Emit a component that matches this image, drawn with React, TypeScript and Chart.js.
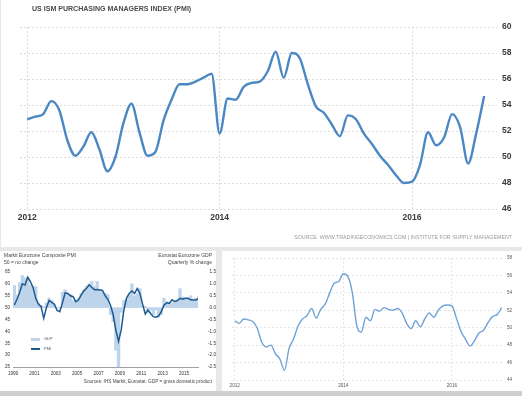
import React, { useEffect, useRef } from 'react';
import { Chart, registerables } from 'chart.js';

Chart.register(...registerables);
Chart.defaults.font.family = '"Liberation Sans", Arial, sans-serif';

// ---------- Top chart: US ISM PMI (monthly from Jan 2012) ----------
const ismTitle = 'US ISM PURCHASING MANAGERS INDEX (PMI)';
const ismSource = 'SOURCE: WWW.TRADINGECONOMICS.COM | INSTITUTE FOR SUPPLY MANAGEMENT';
const ismTickMonths = [0, 24, 48];
const ismTickLabels = ['2012', '2014', '2016'];
const ismValues = [
  52.9, 53.1, 53.3, 54.3, 53.6, 51.3, 50.1, 50.8, 51.9, 50.6,
  48.9, 50.0, 52.6, 54.1, 51.9, 50.1, 50.4, 52.8, 54.4, 55.6,
  55.6, 55.8, 56.1, 56.4, 51.8, 54.5, 54.4, 55.4, 55.7, 55.8,
  56.6, 58.1, 56.1, 58.0, 57.6, 55.6, 53.9, 53.4, 52.5, 51.6,
  53.2, 52.9, 51.8, 51.0, 50.1, 49.4, 48.6, 48.0, 48.1, 49.4,
  51.9, 50.9, 51.5, 53.3, 52.3, 49.5, 51.8, 54.7,
];

// ---------- Bottom-left chart: Eurozone PMI vs GDP (quarterly from 1999) ----------
const ezTitleLeft = ['Markit Eurozone Composite PMI', '50 = no change'];
const ezTitleRight = ['Eurostat Eurozone GDP', 'Quarterly % change'];
const ezSource = 'Sources: IHS Markit, Eurostat. GDP = gross domestic product';
const ezStartYear = 1999;
const ezYearTicks = [1999, 2001, 2003, 2005, 2007, 2009, 2011, 2013, 2015];
const ezPmi = [
  51.1, 53.5, 56.5, 60.0, 59.5, 62.8, 61.0, 58.5, 54.0, 51.5,
  50.4, 45.5, 50.0, 53.0, 52.2, 51.4, 48.8, 48.3, 52.0, 56.2,
  56.0, 55.0, 54.6, 52.5, 53.2, 55.3, 57.0, 58.2, 59.6, 58.5,
  57.5, 57.6, 57.4, 57.2, 55.0, 53.5, 51.0, 47.0, 40.5, 35.8,
  40.6, 49.0, 54.0, 56.0, 57.0, 56.0, 58.0, 56.0, 51.5, 47.3,
  49.0, 47.5, 46.2, 46.0, 46.5, 48.3, 51.0, 52.0, 51.8, 53.3,
  52.5, 53.0, 53.9, 53.5, 53.9, 53.9, 53.3, 53.2, 53.2, 54.0,
];
const ezGdp = [
  0.93, 0.53, 1.05, 1.35, 1.25, 1.28, 0.95, 0.9, 0.88, 0.18,
  0.1, 0.05, 0.2, 0.4, 0.3, 0.1, 0.0, -0.03, 0.65, 0.75,
  0.6, 0.55, 0.3, 0.3, 0.4, 0.6, 0.75, 0.9, 1.0, 1.1,
  0.9, 1.1, 0.75, 0.65, 0.6, 0.55, -0.3, -0.6, -1.8, -2.6,
  -0.2, 0.3, 0.35, 0.55, 1.0, 0.5, 0.6, 0.8, 0.1, 0.05,
  -0.2, -0.1, -0.3, -0.1, -0.4, -0.3, 0.4, 0.25, 0.2, 0.2,
  0.2, 0.25, 0.8, 0.45, 0.35, 0.4, 0.5, 0.3, 0.4, 0.45,
];

// ---------- Bottom-right chart: PMI (monthly from Jan 2012) ----------
const pmi2TickMonths = [0, 24, 48];
const pmi2TickLabels = ['2012', '2014', '2016'];
const pmi2Values = [
  50.8, 50.5, 51.0, 50.9, 50.7, 49.9, 48.3, 47.8, 48.0, 47.0,
  46.4, 45.1, 47.6, 48.7, 50.2, 51.0, 51.4, 52.2, 51.1, 52.1,
  52.7, 54.0, 55.1, 55.3, 56.2, 55.9, 54.0, 50.2, 49.5, 51.2,
  50.8, 52.1, 51.9, 52.3, 52.1, 52.0, 52.2, 51.7, 50.5, 49.9,
  50.8, 50.1, 51.0, 51.7, 51.2, 52.0, 52.5, 52.6, 52.5, 51.1,
  49.6, 48.7, 47.9, 48.5, 49.4, 49.7, 50.6, 51.3, 51.5, 52.3,
];

function useChart(ref: React.RefObject<HTMLCanvasElement | null>, make: () => any) {
  useEffect(() => {
    if (!ref.current) return;
    const chart = new Chart(ref.current, make());
    return () => chart.destroy();
  }, []);
}

function TopChart() {
  const ref = useRef<HTMLCanvasElement>(null);
  useChart(ref, () => ({
    type: 'line',
    data: {
      datasets: [
        {
          data: ismValues.map((v, i) => ({ x: i, y: v })),
          borderColor: '#4b87c2',
          borderWidth: 2.4,
          pointRadius: 0,
          cubicInterpolationMode: 'monotone',
          fill: false,
        },
      ],
    },
    options: {
      responsive: false,
      animation: false,
      devicePixelRatio: 1,
      layout: { padding: { left: 20, top: 27, right: 0, bottom: 0 } },
      plugins: { legend: { display: false }, tooltip: { enabled: false } },
      scales: {
        x: {
          type: 'linear',
          min: -0.9,
          max: 58.6,
          afterBuildTicks: (s: any) => {
            s.ticks = ismTickMonths.map((v) => ({ value: v }));
          },
          afterFit: (s: any) => {
            s.height = 38;
          },
          ticks: {
            callback: (v: number) => ismTickLabels[ismTickMonths.indexOf(v)] ?? '',
            color: '#3a3a3a',
            font: { size: 8.5, weight: 'bold' },
            padding: 4,
            maxRotation: 0,
            autoSkip: false,
          },
          grid: { color: '#dcdcdc', drawTicks: false, lineWidth: 1 },
          border: { display: false, dash: [2, 2] },
        },
        y: {
          position: 'right',
          min: 46,
          max: 60,
          afterFit: (s: any) => {
            s.width = 25;
          },
          ticks: {
            stepSize: 2,
            color: '#3a3a3a',
            font: { size: 8.5, weight: 'bold' },
            padding: 5,
          },
          grid: { color: '#dcdcdc', drawTicks: false, lineWidth: 1 },
          border: { display: false, dash: [2, 2] },
        },
      },
    },
  }));
  return (
    <canvas
      ref={ref}
      width={522}
      height={247}
      style={{ position: 'absolute', left: 0, top: 0, width: 522, height: 247 }}
    />
  );
}

function EuroChart() {
  const ref = useRef<HTMLCanvasElement>(null);
  const tickFont = { size: 4.6 };
  useChart(ref, () => ({
    type: 'bar',
    data: {
      datasets: [
        {
          type: 'line',
          label: 'PMI',
          data: ezPmi.map((v, q) => ({ x: ezStartYear + q / 4 + 0.125, y: v })),
          yAxisID: 'y',
          borderColor: '#1d5a8e',
          borderWidth: 1.5,
          pointRadius: 0,
          tension: 0,
          order: 1,
        },
        {
          type: 'bar',
          label: 'GDP',
          data: ezGdp.map((v, q) => ({ x: ezStartYear + q / 4 + 0.125, y: v })),
          yAxisID: 'y2',
          backgroundColor: '#bed4eb',
          barPercentage: 1,
          categoryPercentage: 1,
          order: 2,
        },
      ],
    },
    options: {
      responsive: false,
      animation: false,
      devicePixelRatio: 1,
      layout: { padding: { left: 0, top: 21, right: 0, bottom: 0 } },
      plugins: { legend: { display: false }, tooltip: { enabled: false } },
      scales: {
        x: {
          type: 'linear',
          offset: false,
          min: 1999,
          max: 2016.31,
          afterBuildTicks: (s: any) => {
            s.ticks = ezYearTicks.map((v) => ({ value: v }));
          },
          afterFit: (s: any) => {
            s.height = 24;
          },
          ticks: {
            callback: (v: number) => String(v),
            color: '#333',
            font: tickFont,
            padding: 4,
            maxRotation: 0,
            autoSkip: false,
          },
          grid: { display: false, drawTicks: false },
          border: { display: true, color: '#8a8a8a', width: 0.8 },
        },
        y: {
          position: 'left',
          min: 25,
          max: 65,
          afterFit: (s: any) => {
            s.width = 13;
          },
          ticks: { stepSize: 5, color: '#333', font: tickFont, padding: 3 },
          grid: { display: false, drawTicks: false },
          border: { display: false },
        },
        y2: {
          position: 'right',
          min: -2.5,
          max: 1.5,
          afterFit: (s: any) => {
            s.width = 18;
          },
          ticks: {
            stepSize: 0.5,
            color: '#333',
            font: tickFont,
            padding: 2,
            crossAlign: 'far',
            callback: (v: number) => v.toFixed(1),
          },
          grid: { display: false, drawTicks: false },
          border: { display: false },
        },
      },
    },
  }));
  return (
    <canvas
      ref={ref}
      width={216}
      height={140}
      style={{ position: 'absolute', left: 0, top: 251, width: 216, height: 140 }}
    />
  );
}

function Pmi2Chart() {
  const ref = useRef<HTMLCanvasElement>(null);
  const tickFont = { size: 4.6 };
  useChart(ref, () => ({
    type: 'line',
    data: {
      datasets: [
        {
          data: pmi2Values.map((v, i) => ({ x: i, y: v })),
          borderColor: '#6fa2d6',
          borderWidth: 1.4,
          pointRadius: 0,
          cubicInterpolationMode: 'monotone',
          fill: false,
        },
      ],
    },
    options: {
      responsive: false,
      animation: false,
      devicePixelRatio: 1,
      layout: { padding: { left: 10, top: 7, right: 0, bottom: 0 } },
      plugins: { legend: { display: false }, tooltip: { enabled: false } },
      scales: {
        x: {
          type: 'linear',
          min: -0.6,
          max: 59.3,
          afterBuildTicks: (s: any) => {
            s.ticks = pmi2TickMonths.map((v) => ({ value: v }));
          },
          afterFit: (s: any) => {
            s.height = 11;
          },
          ticks: {
            callback: (v: number) => pmi2TickLabels[pmi2TickMonths.indexOf(v)] ?? '',
            color: '#555',
            font: tickFont,
            padding: 3,
            maxRotation: 0,
            autoSkip: false,
          },
          grid: { color: '#e6e6e6', drawTicks: false, lineWidth: 1 },
          border: { display: false, dash: [2, 2] },
        },
        y: {
          position: 'right',
          min: 44,
          max: 58,
          afterFit: (s: any) => {
            s.width = 19;
          },
          ticks: { stepSize: 2, color: '#555', font: tickFont, padding: 4 },
          grid: { color: '#e6e6e6', drawTicks: false, lineWidth: 1 },
          border: { display: false, dash: [2, 2] },
        },
      },
    },
  }));
  return (
    <canvas
      ref={ref}
      width={300}
      height={140}
      style={{ position: 'absolute', left: 222, top: 251, width: 300, height: 140 }}
    />
  );
}

const abs = (s: React.CSSProperties): React.CSSProperties => ({
  position: 'absolute',
  whiteSpace: 'nowrap',
  lineHeight: 1,
  ...s,
});

export default function App() {
  return (
    <div
      style={{
        position: 'absolute',
        left: 0,
        top: 0,
        width: 522,
        height: 396,
        background: '#e8e8e8',
        overflow: 'hidden',
        fontFamily: '"Liberation Sans", Arial, sans-serif',
      }}
    >
      <div style={abs({ left: 1, top: 0, width: 521, height: 247, background: '#fff' })} />
      <div style={abs({ left: 0, top: 251, width: 216, height: 140, background: '#fff' })} />
      <div style={abs({ left: 222, top: 251, width: 300, height: 140, background: '#fff' })} />
      <div style={abs({ left: 0, top: 391, width: 522, height: 5, background: '#cfcfcf' })} />

      <TopChart />
      <EuroChart />
      <Pmi2Chart />

      <div
        style={abs({
          left: 32,
          top: 5,
          fontSize: 8,
          fontWeight: 'bold',
          color: '#4a4a4a',
          transform: 'scaleX(0.88)',
          transformOrigin: 'left center',
        })}
      >
        {ismTitle}
      </div>
      <div style={abs({ right: 10, top: 235, fontSize: 5.3, color: '#9a9a9a' })}>{ismSource}</div>

      <div style={abs({ left: 4, top: 253, fontSize: 5, color: '#444' })}>{ezTitleLeft[0]}</div>
      <div style={abs({ left: 4, top: 260, fontSize: 5, color: '#444' })}>{ezTitleLeft[1]}</div>
      <div style={abs({ right: 522 - 212, top: 253, fontSize: 5, color: '#444' })}>{ezTitleRight[0]}</div>
      <div style={abs({ right: 522 - 212, top: 260, fontSize: 5, color: '#444' })}>{ezTitleRight[1]}</div>
      <div style={abs({ right: 522 - 212, top: 380, fontSize: 4.7, color: '#444' })}>{ezSource}</div>

      <div style={abs({ left: 31, top: 337.5, width: 9, height: 3, background: '#bed4eb' })} />
      <div style={abs({ left: 44, top: 337, fontSize: 4, color: '#555' })}>GDP</div>
      <div style={abs({ left: 31, top: 348, width: 9, height: 1.5, background: '#1d5a8e' })} />
      <div style={abs({ left: 44, top: 347, fontSize: 4, color: '#555' })}>PMI</div>
    </div>
  );
}
